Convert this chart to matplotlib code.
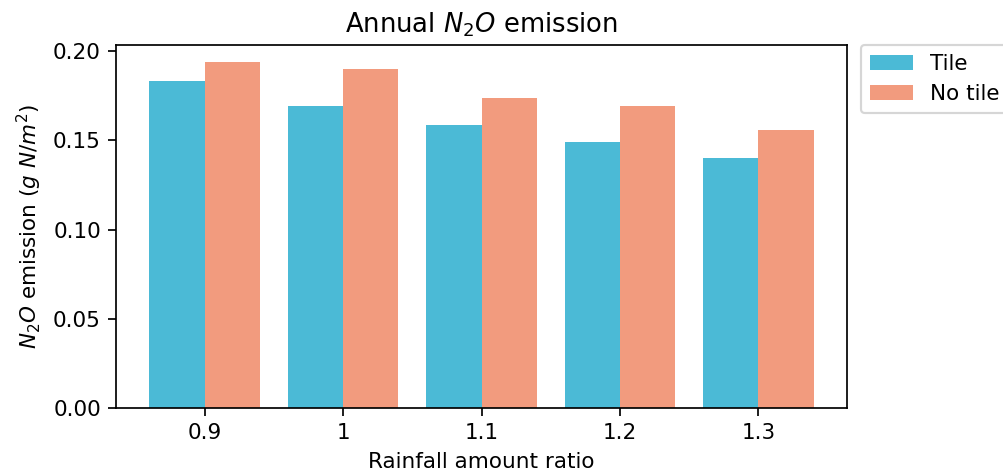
import matplotlib
matplotlib.use("Agg")
import matplotlib.pyplot as plt
import numpy as np

categories = ["0.9", "1", "1.1", "1.2", "1.3"]
tile = [0.1832, 0.1694, 0.1587, 0.1490, 0.1404]
no_tile = [0.1938, 0.1903, 0.1736, 0.1692, 0.1561]

DPI = 155
fig = plt.figure(figsize=(1003 / DPI, 475 / DPI), dpi=DPI)
ax = fig.add_axes([0.1157, 0.1404, 0.8445 - 0.1157, 0.9053 - 0.1404])

x = np.arange(len(categories))
w = 0.4
ax.bar(x - w/2, tile, w, color="#4bbad6", label="Tile")
ax.bar(x + w/2, no_tile, w, color="#f29b7e", label="No tile")
ax.set_xticks(x)
ax.set_xticklabels(categories)
ax.set_yticks([0.0, 0.05, 0.10, 0.15, 0.20])
ax.set_title("Annual $N_2O$ emission")
ax.set_xlabel("Rainfall amount ratio")
ax.set_ylabel("$N_2O$ emission ($g\\ N/m^2$)")
ax.legend(loc="upper left", bbox_to_anchor=(1.019, 1.0), borderaxespad=0)

fig.savefig("out.png", dpi=DPI)
